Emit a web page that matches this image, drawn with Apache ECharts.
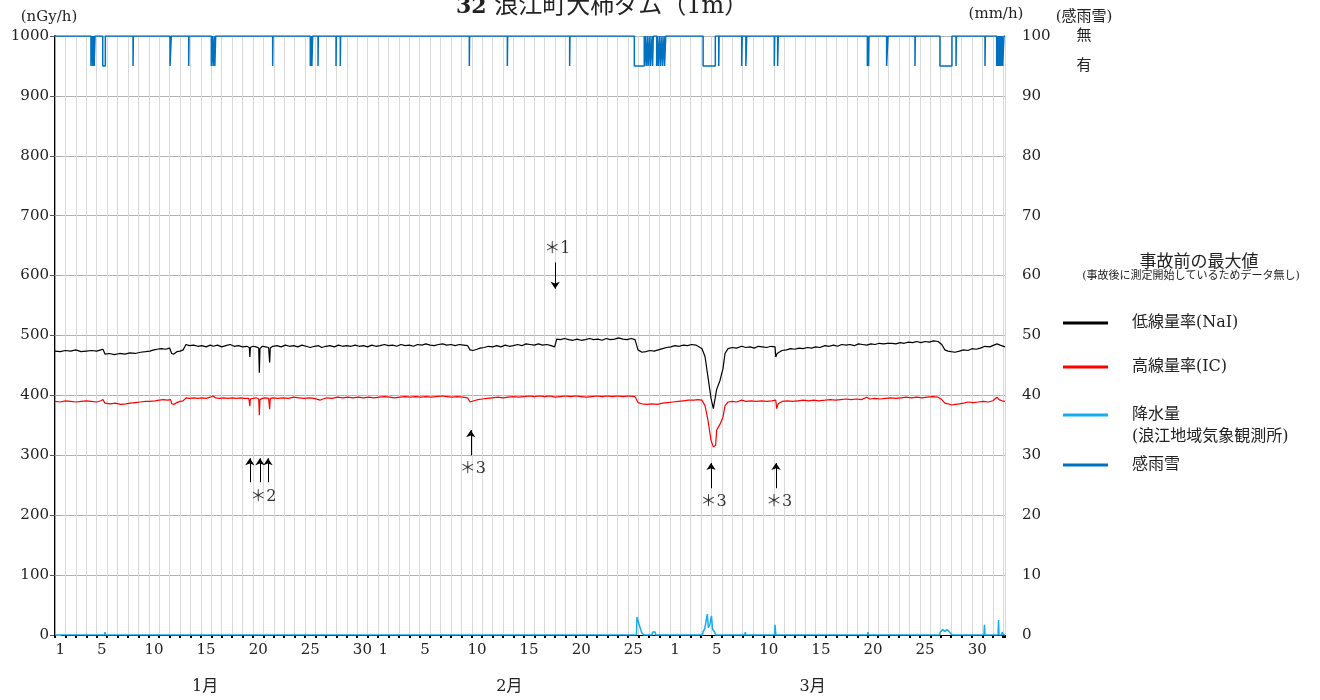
<!DOCTYPE html>
<html>
<head>
<meta charset="utf-8">
<title>32 浪江町大柿ダム</title>
<script src="https://cdn.jsdelivr.net/npm/echarts@6/dist/echarts.min.js"></script>
<style>
  html, body { margin: 0; padding: 0; background: #fff; }
  #chart { width: 1320px; height: 700px; }
</style>
</head>
<body>
<div id="chart"></div>
<script>
// x = days since Jan 1 00:00 (Jan 31d, Feb 28d, Mar 31d)
const dayLabelPos = [0.5, 4.5, 9.5, 14.5, 19.5, 24.5, 29.5,
  31.5, 35.5, 40.5, 45.5, 50.5, 55.5,
  59.5, 63.5, 68.5, 73.5, 78.5, 83.5, 88.5];
const dayLabels = ['1', '5', '10', '15', '20', '25', '30',
  '1', '5', '10', '15', '20', '25',
  '1', '5', '10', '15', '20', '25', '30'];
const monthLabelPos = [14.4, 43.6, 72.7];
const monthLabels = ['1月', '2月', '3月'];

// 低線量率(NaI) nGy/h
const naiData = [
  [0, 474], [0.5, 473], [1, 475], [1.5, 474], [2, 476], [2.5, 473], [3, 474], [3.5, 475], [4, 474], [4.4, 476], [4.6, 477],
  [4.8, 469], [5.2, 470], [5.7, 468], [6.2, 470], [6.7, 469], [7.2, 471], [7.7, 470], [8.2, 472], [8.7, 473], [9.1, 474],
  [9.5, 476], [9.8, 477], [10.2, 478], [10.6, 477], [11.0, 479], [11.2, 470], [11.4, 469], [11.7, 473], [12.0, 474], [12.3, 476],
  [12.57, 485], [12.9, 483], [13.3, 484], [13.7, 482], [14.1, 483], [14.5, 481], [14.9, 484], [15.2, 482], [15.6, 484], [16.0, 481],
  [16.4, 483], [16.8, 485], [17.2, 482], [17.6, 483], [18.0, 481], [18.4, 482], [18.65, 480], [18.7, 464], [18.75, 480], [19.0, 482],
  [19.3, 481], [19.55, 479], [19.61, 438], [19.67, 478], [19.9, 482], [20.2, 481], [20.5, 480], [20.6, 455], [20.66, 479], [20.9, 482],
  [21.3, 483], [21.7, 481], [22.1, 484], [22.5, 482], [22.9, 483], [23.3, 481], [23.7, 484], [24.1, 482], [24.5, 480], [24.9, 482],
  [25.3, 483], [25.6, 480], [26.0, 482], [26.4, 483], [26.8, 481], [27.2, 484], [27.6, 482], [28.0, 483], [28.4, 482], [28.8, 484],
  [29.2, 482], [29.6, 483], [30.0, 481], [30.4, 484], [30.8, 482], [31.2, 483], [31.6, 485], [32.0, 483], [32.4, 484], [32.8, 482],
  [33.2, 485], [33.6, 483], [34.0, 484], [34.4, 482], [34.8, 485], [35.2, 484], [35.6, 486], [36.0, 484], [36.4, 483], [36.8, 485],
  [37.2, 486], [37.6, 484], [38.0, 485], [38.4, 483], [38.8, 485], [39.2, 484], [39.6, 483], [39.83, 476], [40.1, 475], [40.5, 477],
  [40.8, 479], [41.2, 480], [41.6, 482], [42.0, 481], [42.4, 483], [42.8, 481], [43.2, 484], [43.6, 482], [44.0, 483], [44.4, 485],
  [44.8, 483], [45.2, 486], [45.6, 485], [46.0, 484], [46.4, 486], [46.8, 484], [47.2, 485], [47.6, 483], [47.95, 481], [48.15, 494],
  [48.5, 493], [48.9, 495], [49.3, 493], [49.7, 492], [50.1, 494], [50.5, 492], [50.9, 493], [51.3, 495], [51.7, 493], [52.1, 494],
  [52.5, 492], [52.9, 495], [53.3, 493], [53.7, 494], [54.1, 496], [54.5, 494], [54.9, 493], [55.3, 495], [55.66, 493], [55.95, 476],
  [56.33, 472], [56.7, 473], [57.1, 475], [57.5, 474], [57.9, 476], [58.3, 478], [58.7, 480], [59.1, 481], [59.5, 483], [59.9, 482],
  [60.3, 484], [60.7, 483], [61.1, 485], [61.5, 484], [61.71, 482], [62.09, 478], [62.38, 465], [62.67, 430], [62.96, 395], [63.18, 378],
  [63.5, 410], [63.82, 425], [64.11, 445], [64.3, 470], [64.59, 478], [65.0, 480], [65.4, 479], [65.9, 482], [66.3, 480], [66.7, 481],
  [67.1, 479], [67.5, 482], [67.9, 481], [68.3, 480], [68.7, 482], [69.1, 481], [69.17, 464], [69.3, 470], [69.77, 475], [70.2, 476],
  [70.6, 478], [71.0, 477], [71.4, 479], [71.8, 478], [72.2, 480], [72.6, 479], [73.0, 481], [73.4, 480], [73.9, 483], [74.3, 482],
  [74.7, 484], [75.1, 482], [75.5, 485], [75.9, 484], [76.3, 485], [76.7, 483], [77.1, 486], [77.5, 485], [77.9, 484], [78.3, 486],
  [78.7, 485], [79.1, 487], [79.5, 486], [79.9, 487], [80.33, 487], [80.7, 486], [81.1, 488], [81.5, 487], [81.9, 489], [82.3, 488],
  [82.7, 490], [83.1, 488], [83.5, 490], [83.9, 489], [84.3, 491], [84.74, 490], [85.1, 485], [85.4, 476], [85.7, 474], [86.0, 473],
  [86.37, 472], [86.8, 474], [87.2, 476], [87.62, 475], [88.0, 478], [88.4, 477], [88.8, 479], [89.25, 482], [89.7, 481], [90.1, 484],
  [90.4, 486], [90.7, 484], [91.17, 481]
];

// 高線量率(IC) nGy/h
const icData = [
  [0, 390], [0.5, 389], [1, 391], [1.5, 390], [2, 389], [2.5, 390], [3, 391], [3.5, 390], [4, 389], [4.4, 391], [4.6, 393],
  [4.8, 387], [5.3, 386], [5.8, 387], [6.3, 385], [6.8, 386], [7.2, 387], [7.7, 388], [8.2, 389], [8.7, 390], [9.1, 390],
  [9.6, 391], [10.0, 392], [10.4, 393], [10.8, 392], [11.1, 393], [11.2, 386], [11.4, 385], [11.7, 388], [12.0, 390], [12.3, 391],
  [12.57, 396], [12.9, 395], [13.3, 396], [13.7, 395], [14.1, 396], [14.5, 395], [14.9, 397], [15.16, 399], [15.4, 396], [15.8, 395],
  [16.2, 396], [16.6, 395], [17.0, 396], [17.4, 395], [17.8, 396], [18.2, 395], [18.6, 395], [18.7, 382], [18.75, 394], [19.0, 395],
  [19.3, 396], [19.55, 394], [19.61, 367], [19.67, 393], [19.9, 395], [20.2, 396], [20.5, 395], [20.6, 377], [20.66, 395], [20.9, 396],
  [21.4, 395], [21.9, 396], [22.4, 395], [22.9, 397], [23.4, 396], [23.9, 395], [24.4, 396], [24.9, 395], [25.43, 392], [25.7, 394],
  [26.1, 396], [26.6, 395], [27.1, 397], [27.6, 396], [28.1, 397], [28.6, 396], [29.1, 397], [29.6, 396], [30.1, 397], [30.6, 396],
  [31.1, 397], [31.6, 398], [32.1, 397], [32.6, 396], [33.1, 397], [33.6, 398], [34.1, 397], [34.6, 398], [35.1, 397], [35.6, 398],
  [36.1, 397], [36.6, 398], [37.1, 399], [37.6, 398], [38.1, 397], [38.6, 398], [39.1, 397], [39.6, 396], [39.83, 389], [40.2, 391],
  [40.6, 393], [41.0, 394], [41.5, 395], [42.0, 396], [42.5, 397], [43.0, 396], [43.5, 397], [44.0, 398], [44.5, 397], [45.0, 398],
  [45.5, 399], [46.0, 398], [46.5, 399], [47.0, 398], [47.5, 399], [48.0, 397], [48.5, 398], [49.0, 399], [49.5, 398], [50.0, 399],
  [50.5, 398], [51.0, 397], [51.5, 398], [52.0, 399], [52.5, 398], [53.0, 399], [53.5, 398], [54.0, 399], [54.5, 398], [55.0, 399],
  [55.66, 398], [55.95, 388], [56.33, 386], [56.8, 385], [57.3, 386], [57.8, 385], [58.3, 387], [58.8, 388], [59.3, 389], [59.8, 390],
  [60.3, 391], [60.8, 392], [61.3, 392], [61.71, 393], [62.09, 392], [62.38, 383], [62.67, 358], [62.96, 325], [63.18, 314], [63.4, 317],
  [63.5, 342], [63.82, 352], [64.11, 364], [64.3, 383], [64.59, 389], [65.0, 390], [65.4, 389], [65.9, 392], [66.3, 390], [66.8, 391],
  [67.3, 390], [67.8, 391], [68.3, 390], [68.8, 391], [69.17, 392], [69.26, 378], [69.4, 386], [69.77, 390], [70.3, 391], [70.8, 390],
  [71.3, 391], [71.8, 392], [72.3, 391], [72.8, 392], [73.3, 391], [73.9, 392], [74.4, 393], [74.9, 392], [75.4, 393], [75.9, 394],
  [76.4, 393], [76.9, 394], [77.4, 393], [77.9, 397], [78.2, 394], [78.7, 395], [79.2, 394], [79.7, 395], [80.2, 396], [80.7, 395],
  [81.2, 396], [81.7, 397], [82.2, 396], [82.7, 397], [83.2, 396], [83.7, 397], [84.2, 398], [84.74, 397], [85.1, 393], [85.4, 387],
  [85.7, 386], [86.05, 384], [86.4, 385], [86.8, 386], [87.2, 387], [87.62, 389], [88.1, 388], [88.6, 389], [89.1, 390], [89.6, 389],
  [90.0, 391], [90.4, 397], [90.6, 393], [90.88, 391], [91.17, 390]
];

// 降水量 mm/h
const rainData = [
  [0, 0], [4.75, 0], [4.8, 0.5], [4.85, 0], [55.8, 0], [55.85, 3.0], [56.1, 1.5], [56.3, 0.4], [56.5, 0],
  [57.3, 0], [57.35, 0.5], [57.6, 0.5], [57.65, 0], [62.15, 0], [62.2, 0.6], [62.35, 1.0], [62.45, 0.9], [62.6, 3.5],
  [62.7, 1.2], [62.85, 1.8], [63.0, 3.2], [63.1, 1.0], [63.3, 0.5], [63.4, 0], [66.2, 0], [66.25, 0.5], [66.3, 0],
  [69.05, 0], [69.1, 1.7], [69.18, 0], [77.98, 0], [78.02, 0.5], [78.06, 0], [84.9, 0], [84.95, 0.5], [85.2, 0.9],
  [85.4, 0.6], [85.6, 0.9], [85.85, 0.5], [86.1, 0], [89.15, 0], [89.2, 1.7], [89.25, 0], [90.5, 0], [90.55, 2.5],
  [90.6, 0], [90.85, 0], [90.9, 0.5], [91.0, 0.4], [91.05, 0], [91.17, 0]
];

// 感雨雪 "有" periods [start, end] in days
const rainSnowOn = [
  [3.45, 3.55], [3.62, 3.7], [3.76, 3.84], [4.58, 4.83], [7.49, 7.52], [11.04, 11.16], [12.83, 12.86],
  [15.0, 15.1], [15.18, 15.28], [15.34, 15.42], [20.89, 20.92], [24.5, 24.58], [24.65, 24.73], [25.24, 25.27],
  [26.97, 27.0], [27.38, 27.41], [39.76, 39.79], [43.41, 43.44], [49.39, 49.42],
  [55.6, 56.55], [56.6, 56.7], [56.78, 56.9], [56.95, 57.1], [57.15, 57.3], [57.35, 57.42],
  [57.74, 57.85], [57.9, 58.05], [58.1, 58.25], [58.3, 58.45], [58.5, 58.61],
  [62.2, 63.37], [63.7, 63.73], [65.9, 65.95], [66.3, 66.38], [69.03, 69.07], [69.35, 69.41],
  [77.96, 78.0], [78.08, 78.12], [79.81, 79.94], [82.53, 82.56], [84.93, 86.08], [86.47, 86.5], [89.25, 89.28],
  [90.37, 90.45], [90.5, 90.6], [90.65, 90.75], [90.8, 90.9], [90.95, 91.07]
];
const rainSnowNo = 100;
const rainSnowYes = 95;

// annotations: arrows [x, tail value, head value], labels [text, x, value]
const arrows = [
  [48.0, 622, 578],
  [18.7, 255, 295], [19.67, 255, 295], [20.44, 255, 295],
  [39.9, 300, 342], [62.96, 245, 287], [69.2, 245, 287]
];
const notes = [
  ['＊1', 48.2, 645], ['＊2', 20.0, 230], ['＊3', 40.1, 278], ['＊3', 63.2, 223], ['＊3', 69.5, 223]
];

const rainName = '降水量\n(浪江地域気象観測所)';
const serif = '"DejaVu Serif", "Noto Sans CJK JP", serif';

const rainSnowData = [[0, rainSnowNo]];
rainSnowOn.forEach(([s, e]) => {
  rainSnowData.push([s, rainSnowNo], [s, rainSnowYes], [e, rainSnowYes], [e, rainSnowNo]);
});
rainSnowData.push([91.17, rainSnowNo]);

const chart = echarts.init(document.getElementById('chart'));

const legendBase = {
  orient: 'vertical',
  left: 1063,
  padding: 0,
  icon: 'rect',
  itemWidth: 45,
  itemHeight: 3,
  textStyle: { fontSize: 16, color: '#222', fontFamily: serif, lineHeight: 20, padding: [0, 0, 0, 19] }
};

const plainText = { fontWeight: 'normal', color: '#222', fontFamily: serif };

const option = {
  animation: false,
  backgroundColor: '#fff',
  title: [
    {
      text: '{b|32} 浪江町大柿ダム（1m）',
      left: 451,
      top: -10,
      textStyle: {
        fontSize: 24, fontWeight: 'normal', color: '#222', fontFamily: serif,
        rich: { b: { fontSize: 22, fontWeight: 'bold', fontFamily: serif, color: '#222' } }
      }
    },
    {
      text: '(mm/h)',
      left: 996, top: 7, textAlign: 'center', padding: 0,
      textStyle: Object.assign({ fontSize: 15 }, plainText)
    },
    {
      text: '事故前の最大値',
      left: 1194, top: 249, textAlign: 'center',
      textStyle: Object.assign({ fontSize: 17 }, plainText)
    },
    {
      text: '(事故後に測定開始しているためデータ無し)',
      left: 1186, top: 266, textAlign: 'center',
      textStyle: Object.assign({ fontSize: 11 }, plainText)
    }
  ],
  legend: [
    Object.assign({}, legendBase, { top: 313, data: ['低線量率(NaI)'] }),
    Object.assign({}, legendBase, { top: 357, data: ['高線量率(IC)'] }),
    Object.assign({}, legendBase, {
      top: 382, data: [rainName],
      formatter: name => '\n' + name,
      textStyle: { fontSize: 16, color: '#222', fontFamily: serif, lineHeight: 22, padding: [0, 0, 0, 19] }
    }),
    Object.assign({}, legendBase, { top: 455, data: ['感雨雪'] })
  ],
  grid: { left: 55, right: 315, top: 36, bottom: 65 },
  xAxis: [
    {
      type: 'value',
      min: 0,
      max: 91.17,
      interval: 1,
      axisLine: { show: true, onZero: false, lineStyle: { color: '#000', width: 1 } },
      axisTick: { show: true, length: 3, lineStyle: { color: '#000', width: 2 } },
      splitLine: { show: true, lineStyle: { color: '#d9d9d9', width: 1 } },
      axisLabel: {
        customValues: dayLabelPos,
        margin: 8,
        fontSize: 15,
        color: '#222',
        fontFamily: serif,
        formatter: v => dayLabels[dayLabelPos.indexOf(v)] || ''
      }
    },
    {
      type: 'value',
      min: 0,
      max: 91.17,
      position: 'bottom',
      axisLine: { show: false },
      axisTick: { show: false },
      splitLine: { show: false },
      axisLabel: {
        customValues: monthLabelPos,
        margin: 44,
        fontSize: 16,
        color: '#222',
        fontFamily: serif,
        formatter: v => monthLabels[monthLabelPos.indexOf(v)] || ''
      }
    }
  ],
  yAxis: [
    {
      type: 'value',
      min: 0,
      max: 1000,
      interval: 100,
      name: '(nGy/h)',
      nameGap: 11,
      nameTextStyle: { fontSize: 15, color: '#222', fontFamily: serif, padding: [0, 12, 0, 0] },
      axisLine: { show: true, lineStyle: { color: '#000', width: 2 } },
      axisTick: { show: true, length: 5, lineStyle: { color: '#555' } },
      splitLine: { show: true, lineStyle: { color: '#b3b3b3', width: 1 } },
      axisLabel: { fontSize: 15, color: '#222', fontFamily: serif, margin: 6, formatter: v => String(v) }
    },
    {
      type: 'value',
      min: 0,
      max: 100,
      interval: 10,
      position: 'right',
      axisLine: { show: true, lineStyle: { color: '#a6a6a6', width: 1 } },
      axisTick: { show: true, length: 6, lineStyle: { color: '#a6a6a6' } },
      splitLine: { show: false },
      axisLabel: { fontSize: 15, color: '#222', fontFamily: serif, margin: 17, formatter: v => String(v) }
    },
    {
      type: 'value',
      min: 0,
      max: 100,
      position: 'right',
      offset: 79,
      name: '(感雨雪)',
      nameGap: 11,
      nameTextStyle: { fontSize: 15, color: '#222', fontFamily: serif },
      axisLine: { show: false },
      axisTick: { show: false },
      splitLine: { show: false },
      axisLabel: {
        customValues: [rainSnowNo, rainSnowYes],
        margin: 0,
        align: 'center',
        fontSize: 15,
        color: '#222',
        fontFamily: serif,
        formatter: v => (v === rainSnowNo ? '無' : '有')
      }
    }
  ],
  series: [
    {
      name: rainName,
      type: 'line',
      yAxisIndex: 1,
      data: rainData,
      showSymbol: false,
      color: '#14aef0',
      lineStyle: { color: '#14aef0', width: 1.5 },
      z: 2
    },
    {
      name: '低線量率(NaI)',
      type: 'line',
      data: naiData,
      showSymbol: false,
      color: '#000',
      lineStyle: { color: '#000', width: 1.2 },
      z: 3
    },
    {
      name: '高線量率(IC)',
      type: 'line',
      data: icData,
      showSymbol: false,
      color: '#ff0000',
      lineStyle: { color: '#ff0000', width: 1.2 },
      z: 3
    },
    {
      name: '感雨雪',
      type: 'line',
      yAxisIndex: 2,
      data: rainSnowData,
      showSymbol: false,
      color: '#0070c0',
      lineStyle: { color: '#0070c0', width: 1.5 },
      z: 4
    },
    {
      name: 'notes',
      type: 'scatter',
      silent: true,
      symbolSize: 0,
      data: notes.map(n => ({ name: n[0], value: [n[1], n[2]] })),
      label: {
        show: true,
        position: 'inside',
        formatter: '{b}',
        fontSize: 16,
        color: '#000',
        fontFamily: serif
      },
      markLine: {
        silent: true,
        symbol: ['none', 'arrow'],
        symbolSize: 7,
        label: { show: false },
        lineStyle: { color: '#000', width: 1, type: 'solid' },
        data: arrows.map(a => [{ coord: [a[0], a[1]] }, { coord: [a[0], a[2]] }])
      },
      z: 5
    }
  ]
};

chart.setOption(option);
</script>
</body>
</html>
